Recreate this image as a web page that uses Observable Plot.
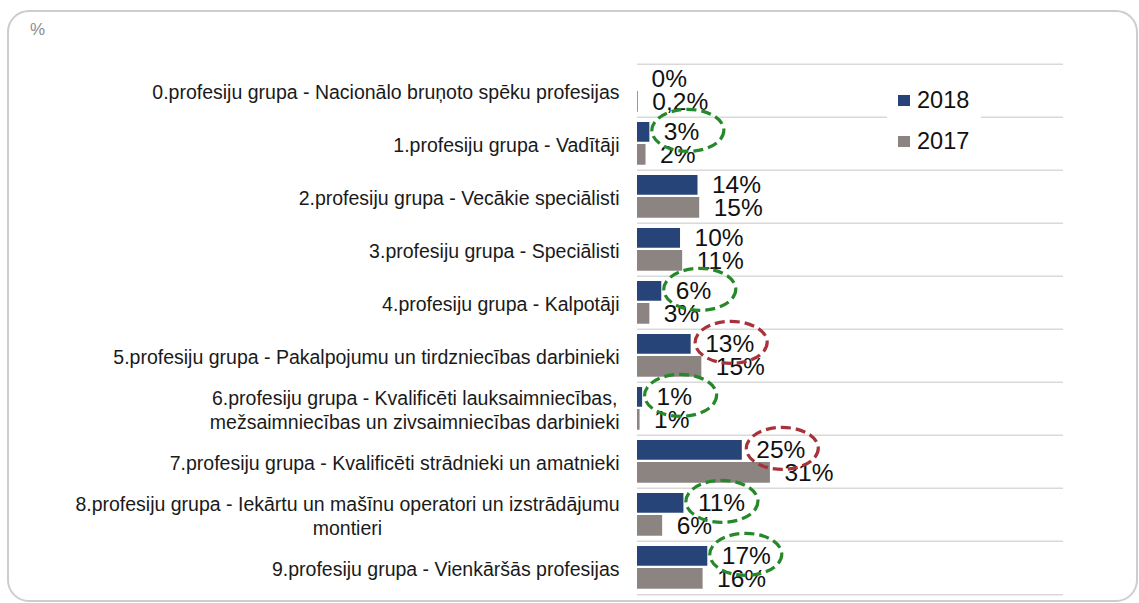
<!DOCTYPE html>
<html>
<head>
<meta charset="utf-8">
<script src="https://cdn.jsdelivr.net/npm/d3@7"></script>
<script src="https://cdn.jsdelivr.net/npm/@observablehq/plot@0.6"></script>
<style>
  html, body { margin: 0; padding: 0; background: #fff; }
  #wrap { position: relative; width: 1139px; height: 603px; overflow: hidden; font-family: "Liberation Sans", Arial, sans-serif; }
  #frame { position: absolute; left: 7px; top: 10px; width: 1131px; height: 592px; box-sizing: border-box; border: 2px solid #cdcdcd; border-radius: 22px; }
  #pct { position: absolute; left: 30px; top: 20px; font-size: 17px; color: #8c8c8c; }
  #chart { position: absolute; left: 0; top: 0; }
  #legendBox { position: absolute; left: 887px; top: 76px; width: 94px; height: 84px; background: #fff; }
  .sw { position: absolute; width: 12px; height: 11px; }
  .lt { position: absolute; font-size: 23.5px; line-height: 24px; color: #111; }
</style>
</head>
<body>
<div id="wrap">
  <div id="frame"></div>
  <div id="pct">%</div>
  <div id="chart"></div>
  <div id="legendBox"></div>
  <div class="sw" id="sw0" style="left:898px;top:95px;"></div>
  <div class="lt" id="lt0" style="left:917px;top:88px;"></div>
  <div class="sw" id="sw1" style="left:898px;top:136px;"></div>
  <div class="lt" id="lt1" style="left:917px;top:129px;"></div>
</div>
<script>
// ---------- data ----------
const categories = [
  "0.profesiju grupa - Nacionālo bruņoto spēku profesijas",
  "1.profesiju grupa - Vadītāji",
  "2.profesiju grupa - Vecākie speciālisti",
  "3.profesiju grupa - Speciālisti",
  "4.profesiju grupa - Kalpotāji",
  "5.profesiju grupa - Pakalpojumu un tirdzniecības darbinieki",
  "6.profesiju grupa - Kvalificēti lauksaimniecības,\nmežsaimniecības un zivsaimniecības darbinieki",
  "7.profesiju grupa - Kvalificēti strādnieki un amatnieki",
  "8.profesiju grupa - Iekārtu un mašīnu operatori un izstrādājumu\nmontieri",
  "9.profesiju grupa - Vienkāršās profesijas"
];
const seriesNames = ["2018", "2017"];
const values2018 = [0, 2.9, 14.2, 10.1, 5.7, 12.6, 1.2, 24.6, 10.9, 16.5];
const values2017 = [0.2, 2.0, 14.6, 10.6, 2.9, 15.1, 0.6, 31.2, 5.9, 15.4];
const labels2018 = ["0%", "3%", "14%", "10%", "6%", "13%", "1%", "25%", "11%", "17%"];
const labels2017 = ["0,2%", "2%", "15%", "11%", "3%", "15%", "1%", "31%", "6%", "16%"];
const highlight2018 = ["", "green", "", "", "green", "red", "green", "red", "green", "green"];
const seriesColors = ["#264478", "#8c8480"];

// ---------- layout ----------
const W = 1139, H = 603;
const mTop = 63, mBottom = 7.3, mLeft = 637, mRight = 76;
const ROW = (H - mTop - mBottom) / categories.length;
const catFont = 19.5, valFont = 24.5;
const fontFamily = "Liberation Sans, Arial, sans-serif";

const rows = categories.map((c, i) => ({
  cat: c, v18: values2018[i], v17: values2017[i],
  l18: labels2018[i], l17: labels2017[i], hl: highlight2018[i]
}));

// measure label widths for Excel-like centered multi-line labels, right-aligned block
const ctx = document.createElement("canvas").getContext("2d");
ctx.font = `${catFont}px "Liberation Sans"`;
function blockWidth(s) { return d3.max(s.split("\n"), l => ctx.measureText(l).width); }

const ellipse = {
  draw(c) {
    const rx = 36, ry = 21, k = 0.5523;
    c.moveTo(rx, 0);
    c.bezierCurveTo(rx, ry * k, rx * k, ry, 0, ry);
    c.bezierCurveTo(-rx * k, ry, -rx, ry * k, -rx, 0);
    c.bezierCurveTo(-rx, -ry * k, -rx * k, -ry, 0, -ry);
    c.bezierCurveTo(rx * k, -ry, rx, -ry * k, rx, 0);
    c.closePath();
  }
};

const top18 = 5, bot18 = ROW - 25;
const top17 = 27, bot17 = ROW - 48;
const dy18 = (5 + 25) / 2 - ROW / 2;
const dy17 = (27 + 48) / 2 - ROW / 2;

const catMarks = categories.map(c => Plot.text([c], {
  y: d => d, frameAnchor: "left", text: d => d,
  textAnchor: "middle", dx: -18 - blockWidth(c) / 2,
  lineHeight: 1.23, fontSize: catFont, fill: "#1a1a1a"
}));

const chart = Plot.plot({
  width: W, height: H,
  marginTop: mTop, marginBottom: mBottom, marginLeft: mLeft, marginRight: mRight,
  style: { fontFamily, background: "transparent" },
  x: { domain: [0, 100], axis: null },
  y: { domain: categories, padding: 0, axis: null },
  marks: [
    Plot.ruleY(categories, { y: d => d, x1: 0, x2: 100, dy: -ROW / 2, stroke: "#d9d9d9", strokeWidth: 1.5 }),
    Plot.ruleY(categories.slice(-1), { y: d => d, x1: 0, x2: 100, dy: ROW / 2, stroke: "#d9d9d9", strokeWidth: 1.5 }),
    Plot.barX(rows, { y: "cat", x: "v18", fill: seriesColors[0], insetTop: top18, insetBottom: bot18 }),
    Plot.barX(rows, { y: "cat", x: "v17", fill: seriesColors[1], insetTop: top17, insetBottom: bot17 }),
    ...catMarks,
    Plot.text(rows, { y: "cat", x: "v18", text: "l18", dx: 14, dy: dy18, textAnchor: "start", fontSize: valFont, fill: "#111" }),
    Plot.text(rows, { y: "cat", x: "v17", text: "l17", dx: 14, dy: dy17, textAnchor: "start", fontSize: valFont, fill: "#111" }),
    Plot.dot(rows.filter(d => d.hl === "green"), { y: "cat", x: "v18", dx: 38, dy: dy18 - 2, symbol: ellipse, r: 20, fill: "none", stroke: "#25892a", strokeWidth: 3.2, strokeDasharray: "10,5" }),
    Plot.dot(rows.filter(d => d.hl === "red"), { y: "cat", x: "v18", dx: 40, dy: dy18 - 2, symbol: ellipse, r: 20, fill: "none", stroke: "#a8323a", strokeWidth: 3.2, strokeDasharray: "10,5" })
  ]
});
document.getElementById("chart").appendChild(chart);

seriesNames.forEach((s, i) => {
  document.getElementById("sw" + i).style.background = seriesColors[i];
  document.getElementById("lt" + i).textContent = s;
});
</script>
</body>
</html>
